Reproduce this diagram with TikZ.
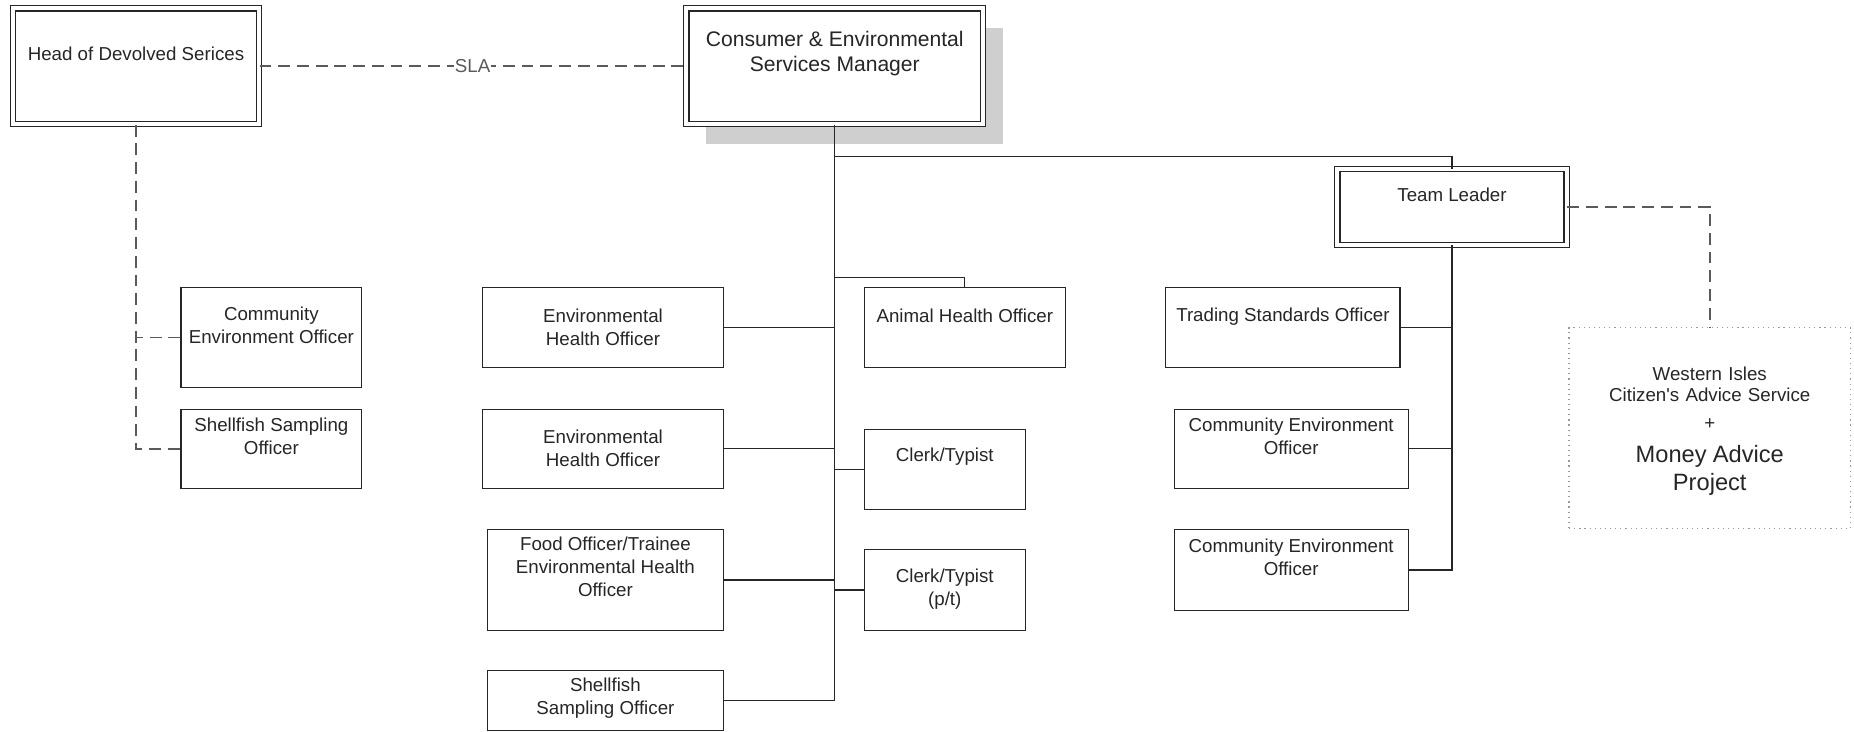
\documentclass[tikz,border=0pt]{standalone}
\usepackage{fontspec}
\setmainfont{Liberation Sans}[Ligatures=TeXOff]
\usetikzlibrary{positioning, shadows}
\definecolor{boxline}{HTML}{262626}
\definecolor{txtgray}{HTML}{262626}
\definecolor{dashgray}{HTML}{5A5A5A}
\definecolor{dotgray}{HTML}{9A9A9A}
\definecolor{shadowgray}{HTML}{CFCFCF}

\begin{document}
\begin{tikzpicture}[x=0.6pt, y=0.6pt, on grid,
    box/.style={draw=boxline, line width=0.6pt, fill=white, inner sep=0pt},
    dblbox/.style={box, double, double distance=2.1pt},
    txt/.style={font=\fontsize{9.5}{11.7}\selectfont, text=txtgray, align=center, inner sep=0pt},
    conn/.style={draw=boxline, line width=0.6pt},
    dashline/.style={draw=dashgray, line width=0.8pt, dash pattern=on 6pt off 3.5pt}]
    \useasboundingbox (0,0) rectangle (1568,-619);

    % top level
    \node[dblbox, minimum width=124.8pt, minimum height=58.8pt] (head) at (115,-56) {};
    \node[dblbox, minimum width=150.6pt, minimum height=58.8pt,
      drop shadow={shadow xshift=10.2pt, shadow yshift=-10.2pt, fill=shadowgray, opacity=1}] (mgr) at (706,-56) {};
    \node[dblbox, minimum width=116.4pt, minimum height=38.4pt] (team) at (1228,-175) {};
    \node[draw=dotgray, dotted, line width=0.6pt, minimum width=142.8pt, minimum height=102pt] (cab) at (1446,-362) {};

    % devolved
    \node[box, minimum width=91.8pt, minimum height=51pt] (comm) at (229.5,-285.5) {};
    \node[box, minimum width=91.8pt, minimum height=40.2pt] (shell1) at (229.5,-379.5) {};

    % manager's staff
    \node[box, minimum width=122.4pt, minimum height=40.8pt] (eho1) at (510,-277) {};
    \node[box, minimum width=122.4pt, minimum height=40.2pt] (eho2) [below=61.5pt of eho1] {};
    \node[box, minimum width=120pt, minimum height=51pt] (food) at (512,-490.5) {};
    \node[box, minimum width=120pt, minimum height=30.6pt] (shell2) at (512,-592.5) {};
    \node[box, minimum width=102pt, minimum height=40.8pt] (animal) at (816,-277) {};
    \node[box, minimum width=81.6pt, minimum height=40.8pt] (clerk1) at (799,-397) {};
    \node[box, minimum width=81.6pt, minimum height=40.8pt] (clerk2) [below=61.2pt of clerk1] {};

    % team leader's staff
    \node[box, minimum width=118.8pt, minimum height=40.8pt] (tso) at (1085,-277) {};
    \node[box, minimum width=118.8pt, minimum height=40.2pt] (ceo1) at (1092,-379.5) {};
    \node[box, minimum width=118.8pt, minimum height=40.8pt] (ceo2) [below=61.5pt of ceo1] {};

    % labels
    \node[txt] (head-t) at ([yshift=-23.4pt]head.north) {Head of Devolved Serices};
    \node[txt, font=\fontsize{10.7}{12.6}\selectfont] (mgr-t) at ([yshift=-23.1pt]mgr.north)
      {Consumer \& Environmental\\Services Manager};
    \node[txt] (team-t) at ([yshift=-13.2pt]team.north) {Team Leader};
    \node[txt, text width=140pt] (cab-t) at ([yshift=-1.6pt]cab.center)
      {{\fontsize{9.5}{10.8}\selectfont Western Isles\\Citizen's Advice Service\\[3.2pt]+\par}
       \vspace{2.4pt}{\fontsize{12}{14.4}\selectfont Money Advice\\Project\par}};
    \node[txt] (comm-t) at ([yshift=-19.8pt]comm.north) {Community\\Environment Officer};
    \node[txt] (shell1-t) at ([yshift=-14.1pt]shell1.north) {Shellfish Sampling\\Officer};
    \node[txt] (eho1-t) at ([yshift=-20.7pt]eho1.north) {Environmental\\Health Officer};
    \node[txt] (eho2-t) at ([yshift=-20.1pt]eho2.north) {Environmental\\Health Officer};
    \node[txt] (food-t) at ([yshift=-19.2pt]food.north) {Food Officer/Trainee\\Environmental Health\\Officer};
    \node[txt] (shell2-t) at ([yshift=-14.4pt]shell2.north) {Shellfish\\Sampling Officer};
    \node[txt] (animal-t) at ([yshift=-15pt]animal.north) {Animal Health Officer};
    \node[txt] (clerk1-t) at ([yshift=-14.4pt]clerk1.north) {Clerk/Typist};
    \node[txt] (clerk2-t) at ([yshift=-20.1pt]clerk2.north) {Clerk/Typist\\(p/t)};
    \node[txt] (tso-t) at ([yshift=-15pt]tso.north) {Trading Standards Officer};
    \node[txt] (ceo1-t) at ([yshift=-14.1pt]ceo1.north) {Community Environment\\Officer};
    \node[txt] (ceo2-t) at ([yshift=-14.1pt]ceo2.north) {Community Environment\\Officer};

    % solid lines
    \draw[conn] (mgr.south) -- (mgr.south |- shell2.east) -- (shell2.east);
    \draw[conn] (eho1.east) -- (eho1.east -| mgr.south);
    \draw[conn] (eho2.east) -- (eho2.east -| mgr.south);
    \draw[conn] (food.east) -- (food.east -| mgr.south);
    \coordinate (abus) at ([yshift=4.8pt]animal.north);
    \draw[conn] (animal.north) -- (abus) -- (abus -| mgr.south);
    \draw[conn] (clerk1.west) -- (clerk1.west -| mgr.south);
    \draw[conn] (clerk2.west) -- (clerk2.west -| mgr.south);
    \draw[conn] (mgr.south) |- ([yshift=6pt]team.north) -- (team.north);
    \draw[conn] (team.south) -- (team.south |- ceo2.east) -- (ceo2.east);
    \draw[conn] (tso.east) -- (tso.east -| team.south);
    \draw[conn] (ceo1.east) -- (ceo1.east -| team.south);

    % dashed lines
    \draw[dashline] (head.east) -- node[txt, fill=white, inner xsep=0.5pt, inner ysep=1pt, text=dashgray] (sla) {SLA} (mgr.west);
    \draw[dashline] (head.south) |- (shell1.west);
    \draw[dashline] (comm.west) -- (comm.west -| head.south);
    \draw[dashline] (team.east) -| (cab.north);
\end{tikzpicture}
\end{document}
